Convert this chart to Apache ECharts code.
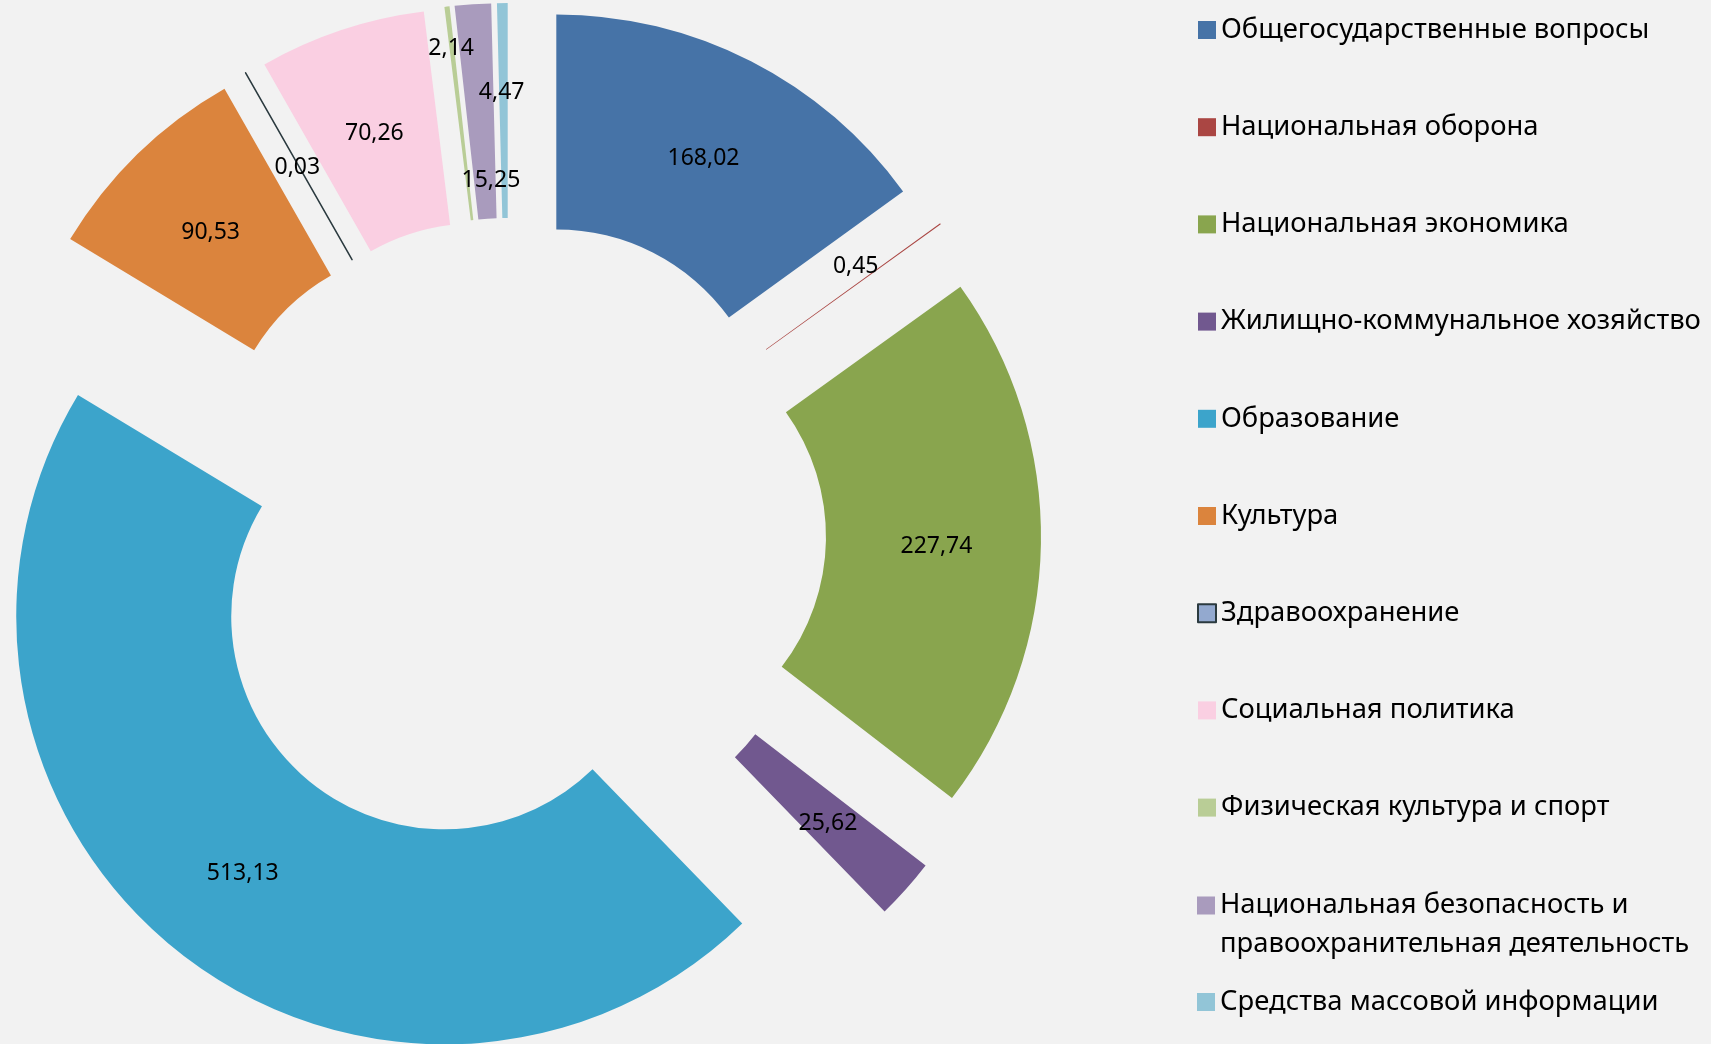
<!DOCTYPE html>
<html>
<head>
<meta charset="utf-8">
<title>Расходы бюджета</title>
<script src="https://cdn.jsdelivr.net/npm/echarts@6/dist/echarts.min.js"></script>
<style>
  html, body { margin: 0; padding: 0; background: #f2f2f2; }
  #chart { width: 1711px; height: 1044px; }
</style>
</head>
<body>
<div id="chart"></div>
<script>
const categories = [
  'Общегосударственные вопросы',
  'Национальная оборона',
  'Национальная экономика',
  'Жилищно-коммунальное хозяйство',
  'Образование',
  'Культура',
  'Здравоохранение',
  'Социальная политика',
  'Физическая культура и спорт',
  'Национальная безопасность и правоохранительная деятельность',
  'Средства массовой информации'
]
const values = [168.02, 0.45, 227.74, 25.62, 513.13, 90.53, 0.03, 70.26, 2.14, 15.25, 4.47]
const colors = ['#4673a7', '#aa4643', '#89a54e', '#71588f', '#3ca4cb', '#db843d',
  '#93a9cf', '#facfe2', '#b9cd96', '#a99bbd', '#92c5d7']

// labels of the thin slices are pushed aside (like in the original)
const labelShift = { 1: [0, -22], 8: [-8, -66], 9: [11, 68], 10: [-2, -19] }

const font = 'Noto Sans'

const chart = echarts.init(document.getElementById('chart'))

const pieData = categories.map((name, i) => {
  const item = {
    name: name,
    value: values[i],
    selected: true,
    itemStyle: { color: colors[i] }
  }
  if (name === 'Здравоохранение') {
    item.itemStyle.borderColor = '#2b3a3f'
    item.itemStyle.borderWidth = 1.5
  }
  return item
})

const legendText = {
  fontFamily: font,
  fontSize: 27.4,
  color: '#000',
  lineHeight: 36
}

chart.setOption({
  backgroundColor: '#f2f2f2',
  animation: false,
  legend: [
    {
      orient: 'vertical',
      left: 1192,
      top: 7,
      itemWidth: 18,
      itemHeight: 18,
      itemGap: 61.2,
      icon: 'rect',
      selectedMode: false,
      data: categories.slice(0, 9),
      textStyle: legendText
    },
    {
      // two-line entry: icon sits on the first line
      orient: 'vertical',
      left: 1192,
      top: 842,
      itemWidth: 18,
      itemHeight: 18,
      icon: 'rect',
      selectedMode: false,
      data: categories.slice(9, 10),
      formatter: name => '\n' + name.replace(' и ', ' и\n'),
      textStyle: Object.assign({}, legendText, { lineHeight: 39 })
    },
    {
      orient: 'vertical',
      left: 1192,
      top: 979,
      itemWidth: 18,
      itemHeight: 18,
      icon: 'rect',
      selectedMode: false,
      data: categories.slice(10),
      textStyle: legendText
    }
  ],
  series: [
    {
      type: 'pie',
      center: [509, 535],
      radius: [213, 428],
      startAngle: 90,
      clockwise: true,
      selectedMode: 'multiple',
      selectedOffset: 104,
      avoidLabelOverlap: false,
      emphasis: { disabled: true },
      label: {
        show: true,
        position: 'inside',
        fontFamily: font,
        fontSize: 23,
        color: '#000',
        formatter: p => p.value.toFixed(2).replace('.', ',')
      },
      labelLine: { show: false },
      labelLayout: function (params) {
        const s = labelShift[params.dataIndex] || [0, 0]
        return { dx: s[0], dy: s[1] + 4 }
      },
      data: pieData
    }
  ]
})
</script>
</body>
</html>
